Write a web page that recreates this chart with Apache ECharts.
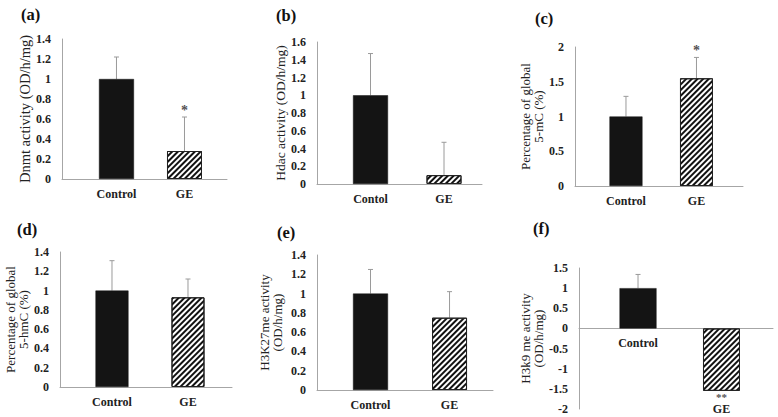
<!DOCTYPE html>
<html>
<head>
<meta charset="utf-8">
<script src="https://cdn.jsdelivr.net/npm/echarts@6/dist/echarts.min.js"></script>
<style>html,body{margin:0;padding:0;background:#fff}#c{width:778px;height:417px}</style>
</head>
<body>
<div id="c"></div>
<script>
// ---- data ----
const categories = ['Control', 'GE'];
const categoriesB = ['Contol', 'GE'];

const dnmtMean = [1.00, 0.28];
const dnmtErr = [0.22, 0.34];
const dnmtSig = ['', '*'];

const hdacMean = [1.00, 0.10];
const hdacErr = [0.47, 0.37];
const hdacSig = ['', ''];

const mcMean = [1.00, 1.55];
const mcErr = [0.29, 0.30];
const mcSig = ['', '*'];

const hmcMean = [1.00, 0.93];
const hmcErr = [0.31, 0.19];
const hmcSig = ['', ''];

const h3k27Mean = [1.00, 0.75];
const h3k27Err = [0.25, 0.27];
const h3k27Sig = ['', ''];

const h3k9Mean = [1.00, -1.55];
const h3k9Err = [0.34, 0];
const h3k9Sig = ['', '**'];

// y axis ranges [min, max, interval]
const yTicksA = [0, 1.4, 0.2];
const yTicksB = [0, 1.6, 0.2];
const yTicksC = [0, 2, 0.5];
const yTicksD = [0, 1.4, 0.2];
const yTicksE = [0, 1.4, 0.2];
const yTicksF = [-2, 1.5, 0.5];

const panelLabels = ['(a)', '(b)', '(c)', '(d)', '(e)', '(f)'];
const yTitles = [
  'Dnmt activity (OD/h/mg)',
  'Hdac activity (OD/h/mg)',
  'Percentage of global\n5-mC (%)',
  'Percentage of global\n5-hmC (%)',
  'H3K27me activity\n(OD/h/mg)',
  'H3k9 me activity\n(OD/h/mg)'
];

// ---- layout ----
const FONT = '"Liberation Serif", "DejaVu Serif", serif';
const panels = [
  {cats: categories, mean: dnmtMean, err: dnmtErr, sig: dnmtSig, yt: yTicksA,
   grid: {left: 62, top: 39, width: 165, height: 140}, xr: [-0.801, 1.625], bw: 35, gap: 30, lab: [21, 6], nameSize: 14.5},
  {cats: categoriesB, mean: hdacMean, err: hdacErr, sig: hdacSig, yt: yTicksB,
   grid: {left: 317, top: 42, width: 165, height: 142}, xr: [-0.728, 1.517], bw: 35, gap: 30, lab: [276, 7], nameSize: 13.5},
  {cats: categories, mean: mcMean, err: mcErr, sig: mcSig, yt: yTicksC,
   grid: {left: 575, top: 47, width: 168, height: 139}, xr: [-0.723, 1.66], bw: 33, gap: 29, lab: [535, 10], nameSize: 13},
  {cats: categories, mean: hmcMean, err: hmcErr, sig: hmcSig, yt: yTicksD,
   grid: {left: 60, top: 252, width: 172, height: 135}, xr: [-0.684, 1.579], bw: 33, gap: 28, lab: [17, 221], nameSize: 13},
  {cats: categories, mean: h3k27Mean, err: h3k27Err, sig: h3k27Sig, yt: yTicksE,
   grid: {left: 317, top: 255, width: 176, height: 135}, xr: [-0.677, 1.55], bw: 35, gap: 33, lab: [277, 224], nameSize: 13},
  {cats: categories, mean: h3k9Mean, err: h3k9Err, sig: h3k9Sig, yt: yTicksF,
   grid: {left: 579, top: 268, width: 194, height: 141}, xr: [-0.707, 1.617], bw: 37, gap: 32, lab: [533, 220], nameSize: 13,
   labelsOnBars: true, labelDist: [9, 12]}
];

const hatch = {
  symbol: 'rect', symbolSize: 1,
  dashArrayX: [1, 0], dashArrayY: [1.4, 1.6],
  rotation: -Math.PI / 4, color: '#111'
};

const option = {
  animation: false,
  backgroundColor: '#fff',
  title: [], grid: [], xAxis: [], yAxis: [], series: []
};

panels.forEach((p, i) => {
  option.title.push({
    text: panelLabels[i], left: p.lab[0], top: p.lab[1], padding: 0,
    textStyle: {fontFamily: FONT, fontWeight: 'bold', fontSize: 16.5, color: '#111'}
  });
  option.grid.push(Object.assign({containLabel: false}, p.grid));
  option.xAxis.push({
    type: 'value', gridIndex: i, min: p.xr[0], max: p.xr[1],
    axisLine: {show: true, onZero: true, lineStyle: {color: '#a6a6a6', width: 1}},
    axisTick: {show: false},
    splitLine: {show: false},
    axisLabel: {
      show: !p.labelsOnBars,
      customValues: [0, 1],
      formatter: v => p.cats[Math.round(v)],
      margin: 9,
      fontFamily: FONT, fontWeight: 'bold', fontSize: 12, color: '#222'
    }
  });
  option.yAxis.push({
    type: 'value', gridIndex: i, min: p.yt[0], max: p.yt[1], interval: p.yt[2],
    axisLine: {show: true, onZero: false, lineStyle: {color: '#a6a6a6', width: 1}},
    axisTick: {show: false},
    splitLine: {show: false},
    axisLabel: {margin: 11, fontFamily: FONT, fontWeight: 'bold', fontSize: 12, color: '#222'},
    name: yTitles[i], nameLocation: 'middle', nameRotate: 90, nameGap: p.gap,
    nameTextStyle: {fontFamily: FONT, fontSize: p.nameSize, color: '#222', lineHeight: 13}
  });
  option.series.push({
    type: 'bar', xAxisIndex: i, yAxisIndex: i, barWidth: p.bw,
    data: p.mean.map((m, j) => ({
      value: [j, m],
      itemStyle: j === 0
        ? {color: '#141414', borderColor: '#141414', borderWidth: 0.5}
        : {color: '#ffffff', borderColor: '#222', borderWidth: 1, decal: hatch},
      label: p.labelsOnBars ? {distance: p.labelDist[j]} : undefined
    })),
    label: p.labelsOnBars ? {
      show: true, position: 'bottom',
      formatter: prm => p.cats[prm.dataIndex],
      fontFamily: FONT, fontWeight: 'bold', fontSize: 12, lineHeight: 12, color: '#222'
    } : {show: false},
    z: 2
  });
  option.series.push({
    type: 'custom', xAxisIndex: i, yAxisIndex: i, z: 1,
    data: p.mean.map((m, j) => [j, m, p.err[j]]),
    renderItem: (params, api) => {
      const x = api.value(0), m = api.value(1), e = api.value(2);
      if (!e) return null;
      const p0 = api.coord([x, m]);
      const p1 = api.coord([x, m + (m >= 0 ? e : -e)]);
      const st = {stroke: '#9a9a9a', lineWidth: 1};
      return {type: 'group', children: [
        {type: 'line', shape: {x1: p0[0], y1: p0[1], x2: p1[0], y2: p1[1]}, style: st},
        {type: 'line', shape: {x1: p1[0] - 2.5, y1: p1[1], x2: p1[0] + 2.5, y2: p1[1]}, style: st}
      ]};
    }
  });
  const sigData = [];
  p.sig.forEach((s, j) => {
    if (!s) return;
    const m = p.mean[j], e = p.err[j];
    sigData.push({value: [j, m >= 0 ? m + e : m - e], name: s,
      label: {position: m >= 0 ? 'top' : 'bottom', distance: m >= 0 ? 0 : 1}});
  });
  if (sigData.length) {
    option.series.push({
      type: 'scatter', xAxisIndex: i, yAxisIndex: i, symbolSize: 0, silent: true,
      data: sigData,
      label: {show: true, formatter: prm => prm.name,
        fontFamily: FONT, fontWeight: 'bold', fontSize: p.labelsOnBars ? 11 : 14, lineHeight: p.labelsOnBars ? 10 : 14, color: '#222'}
    });
  }
});

const chart = echarts.init(document.getElementById('c'), null, {renderer: 'svg'});
chart.setOption(option);
</script>
</body>
</html>
